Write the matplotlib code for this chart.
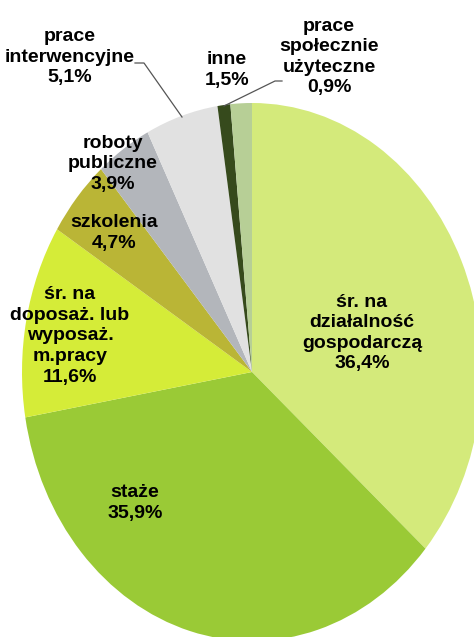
import matplotlib
matplotlib.use("Agg")
import matplotlib.pyplot as plt

# dane z wykresu (udział form aktywizacji, %)
labels = ["śr. na\ndziałalność\ngospodarczą", "staże", "śr. na\ndoposaż. lub\nwyposaż.\nm.pracy",
          "szkolenia", "roboty\npubliczne", "prace\ninterwencyjne", "prace\nspołecznie\nużyteczne", "inne"]
values = [36.4, 35.9, 11.6, 4.7, 3.9, 5.1, 0.9, 1.5]
colors = ["#d4ea7b", "#9aca36", "#d5ec38", "#bab536", "#b3b6bb", "#e1e1e1", "#364a1c", "#b7cf96"]

# położenie opisów w pikselach obrazka (x, y od góry)
LABEL_PX = [(362, 333), (135, 503), (70, 336), (114, 233), (113, 164), (70, 57), (329, 57), (227, 70)]

W, H = 474, 637
CX, CY, RX, RY = 252, 372, 230, 269  # elipsa tortu w pikselach


def to_data(px, py):
    return (px - CX) / RX, (CY - py) / RY


def pct(v):
    return ("%.1f%%" % v).replace(".", ",")


fig = plt.figure(figsize=(W / 100, H / 100), dpi=100)
ax = fig.add_axes([(CX - RX) / W, 1 - (CY + RY) / H, 2 * RX / W, 2 * RY / H])
ax.pie(values, colors=colors, startangle=90, counterclock=False, radius=1,
       wedgeprops=dict(linewidth=0))
ax.set_aspect("auto")
ax.set_xlim(-1, 1)
ax.set_ylim(-1, 1)
ax.axis("off")

for lab, v, (px, py) in zip(labels, values, LABEL_PX):
    x, y = to_data(px, py)
    ax.text(x, y, lab + "\n" + pct(v), ha="center", va="center", fontsize=14,
            fontweight="bold", family=["Liberation Sans", "DejaVu Sans"],
            linespacing=1.28, clip_on=False)

# linie odniesienia
for pts in ([(135, 63), (144, 63), (182, 117)], [(282, 81), (275, 81), (224, 106)]):
    xs, ys = zip(*[to_data(px, py) for px, py in pts])
    ax.plot(xs, ys, color="#555555", lw=0.9, clip_on=False)

fig.savefig("out.png", dpi=100)
